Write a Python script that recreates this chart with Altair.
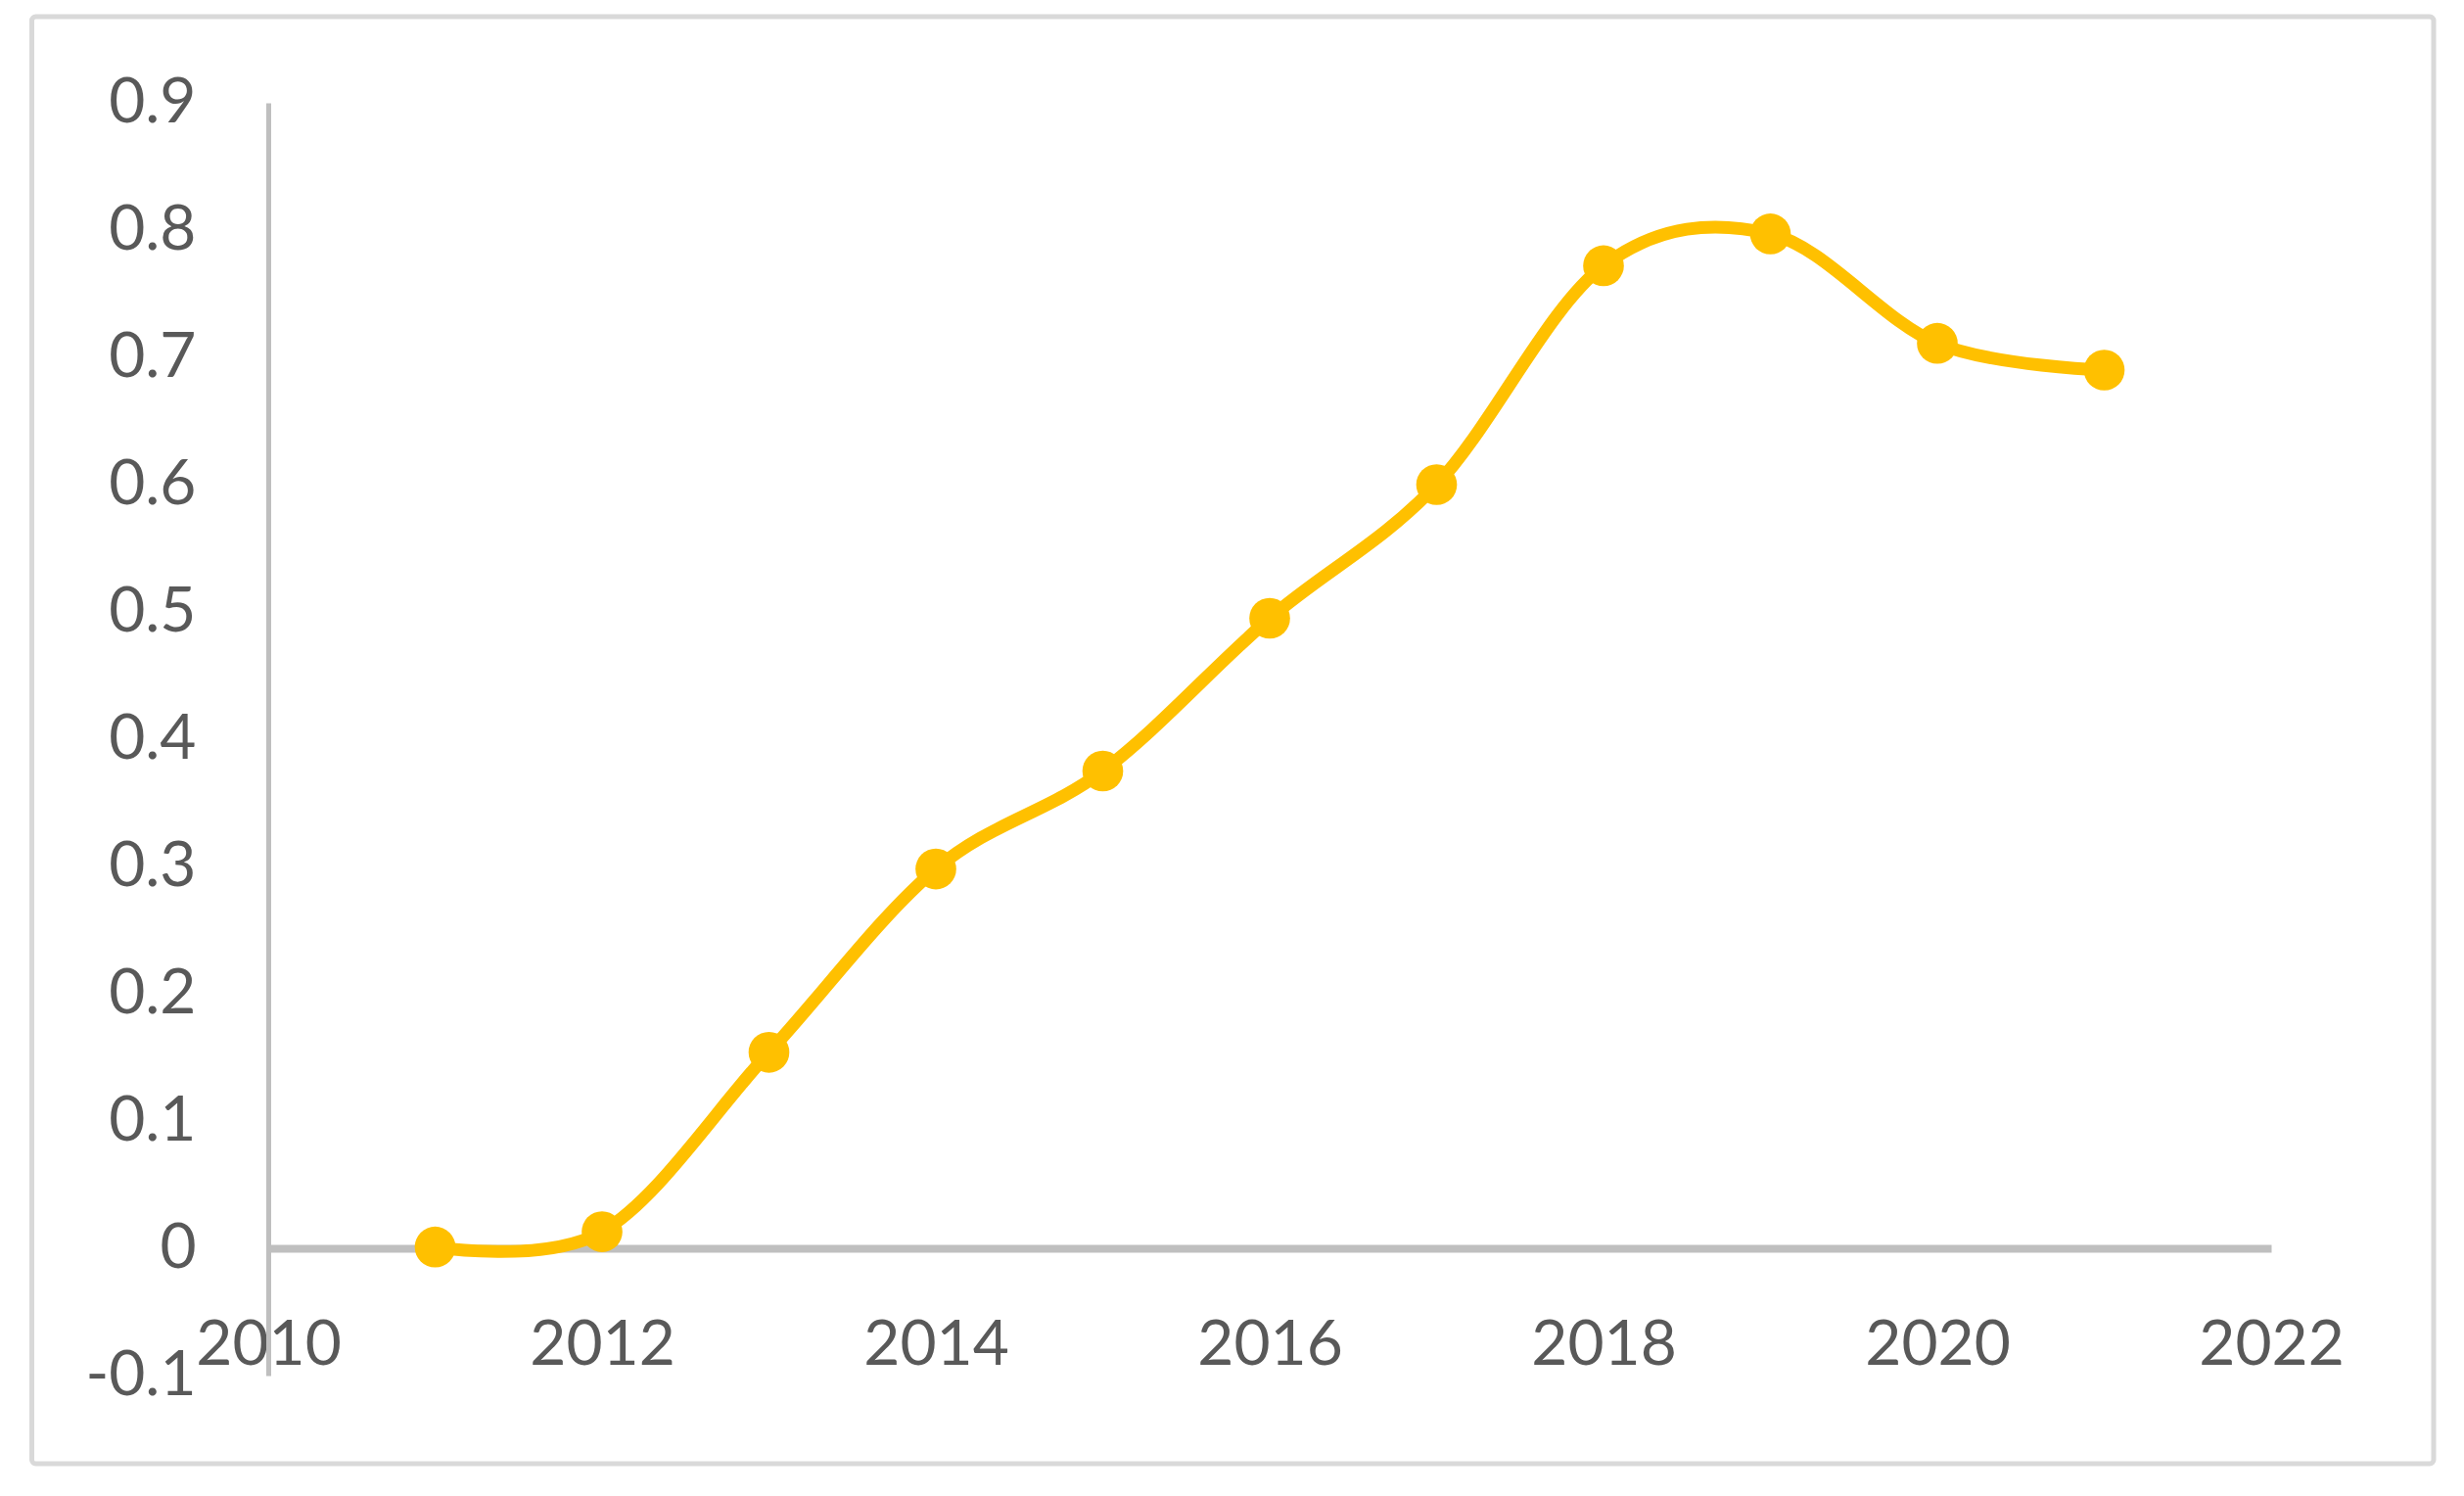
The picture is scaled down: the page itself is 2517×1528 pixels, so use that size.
import altair as alt
import pandas as pd

years = [2011, 2012, 2013, 2014, 2015, 2016, 2017, 2018, 2019, 2020, 2021]
values = [0.001, 0.013, 0.154, 0.298, 0.375, 0.495, 0.600, 0.772, 0.797, 0.711, 0.690]
x_ticks = [2010, 2012, 2014, 2016, 2018, 2020, 2022]
y_ticks = [-0.1, 0, 0.1, 0.2, 0.3, 0.4, 0.5, 0.6, 0.7, 0.8, 0.9]

df = pd.DataFrame({"year": years, "value": values})

FONT = "Lato"
LABEL_COLOR = "#595959"
AXIS_COLOR = "#BFBFBF"
SERIES_COLOR = "#FFC000"

x_scale = alt.Scale(domain=[2010, 2022], nice=False, zero=False)
y_scale = alt.Scale(domain=[-0.1, 0.9], nice=False, zero=False)

x_axis = alt.Axis(
    values=x_ticks, format="d", title=None, grid=False, ticks=False, tickSize=0,
    domainColor=AXIS_COLOR, domainWidth=8, offset=-130,
    labelFont=FONT, labelFontSize=64, labelColor=LABEL_COLOR,
    labelPadding=67, labelBaseline="top", labelFlush=False, labelOverlap=False,
)
y_axis = alt.Axis(
    values=y_ticks, title=None, grid=False, ticks=False, tickSize=0,
    domainColor=AXIS_COLOR, domainWidth=5,
    labelFont=FONT, labelFontSize=64, labelColor=LABEL_COLOR,
    labelPadding=74, labelFlush=False, labelOverlap=False,
    labelExpr="(datum.value < 0 ? '-' : '') + format(abs(datum.value), '~g')",
)

border = alt.Chart(pd.DataFrame({"k": [0]})).mark_rect(
    fillOpacity=0, stroke="#D9D9D9", strokeWidth=5, cornerRadius=4
).encode(
    x=alt.value(-241.5), x2=alt.value(2212), y=alt.value(-88), y2=alt.value(1390)
)

base = alt.Chart(df).encode(
    x=alt.X("year:Q", scale=x_scale, axis=x_axis),
    y=alt.Y("value:Q", scale=y_scale, axis=y_axis),
)

line = base.mark_line(color=SERIES_COLOR, strokeWidth=13, interpolate="cardinal", tension=0)
points = base.mark_point(filled=True, color=SERIES_COLOR, size=1735, opacity=1, shape="circle")

chart = alt.layer(border, line, points).properties(
    width=2046, height=1300,
    autosize=alt.AutoSizeParams(type="none"),
    padding={"left": 266, "top": 97, "right": 180, "bottom": 105},
    background="white",
).configure_view(stroke=None)

chart.save("out.html", embed_options={"renderer": "svg", "actions": False})
